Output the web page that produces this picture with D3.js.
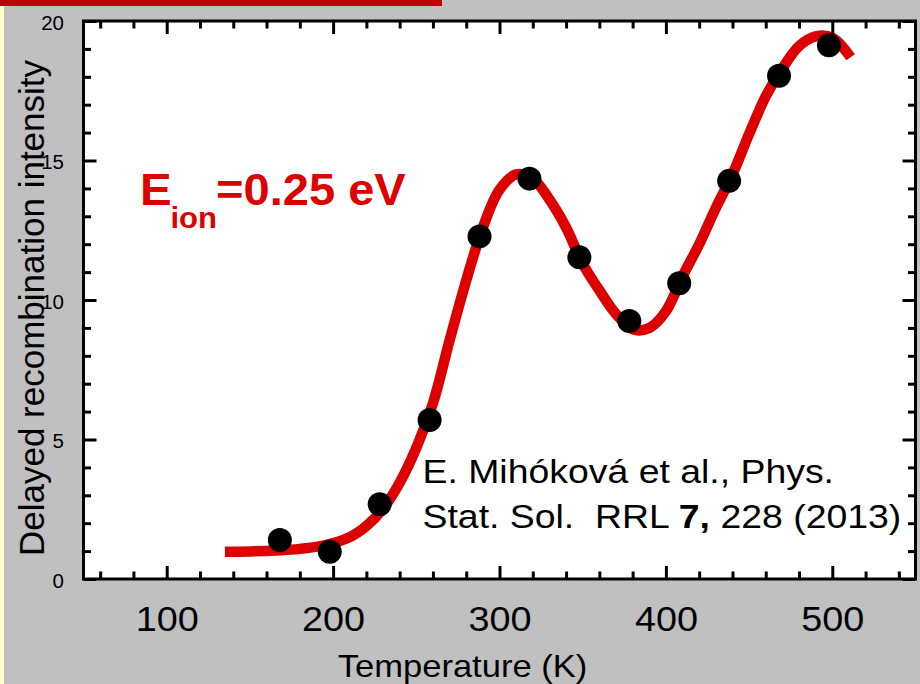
<!DOCTYPE html>
<html>
<head>
<meta charset="utf-8">
<script src="https://cdn.jsdelivr.net/npm/d3@7"></script>
<style>
  body { margin: 0; background: #c0c0c0; }
  text { font-family: "Liberation Sans", Arial, sans-serif; }
</style>
</head>
<body>
<div id="canvas"></div>
<script>
// measured points
const tempPoints = [168, 198, 228, 258, 288, 318, 348, 378, 408, 438, 468, 498]
const intensityPoints = [1.40, 0.98, 2.68, 5.70, 12.28, 14.35, 11.53, 9.25, 10.60, 14.27, 18.04, 19.13]

// fitted curve
const fitTemps = [135, 150, 165, 180, 195, 210, 220, 230, 240, 250, 260, 270, 280, 290, 300, 310, 320, 330, 340, 350, 360, 370, 380, 390, 400, 410, 420, 430, 440, 450, 460, 470, 480, 490, 500, 511]
const fitValues = [0.98, 0.99, 1.02, 1.08, 1.21, 1.50, 1.90, 2.52, 3.45, 4.70, 6.30, 8.55, 10.70, 12.60, 13.95, 14.50, 14.35, 13.60, 12.60, 11.30, 10.35, 9.50, 8.95, 9.00, 9.60, 10.85, 12.00, 13.30, 14.50, 15.95, 17.30, 18.30, 19.10, 19.45, 19.40, 18.70]

const xMajor = [100, 200, 300, 400, 500]
const xMinor = [60, 80, 120, 140, 160, 180, 220, 240, 260, 280, 320, 340, 360, 380, 420, 440, 460, 480, 520, 540]
const yMajor = [0, 5, 10, 15, 20]
const yMinor = [1, 2, 3, 4, 6, 7, 8, 9, 11, 12, 13, 14, 16, 17, 18, 19]

const width = 920
const height = 684
const red = '#dd0000'

const svg = d3.select('#canvas')
    .append('svg')
    .attr('width', width)
    .attr('height', height)

svg.append('rect').attr('width', width).attr('height', height).attr('fill', '#c0c0c0')
svg.append('rect').attr('x', 0).attr('y', 0).attr('width', 4).attr('height', height).attr('fill', '#ffffd2')
svg.append('rect').attr('x', 0).attr('y', 0).attr('width', 442).attr('height', 6).attr('fill', '#c00000')

let x = d3.scaleLinear().domain([50, 550]).range([83.5, 915.5])
let y = d3.scaleLinear().domain([0, 20]).range([579, 21])

// plot area
svg.append('rect')
    .attr('x', x(50)).attr('y', y(20))
    .attr('width', x(550) - x(50)).attr('height', y(0) - y(20))
    .attr('fill', 'white')

// fit line
let line = d3.line()
    .x(d => x(d[0]))
    .y(d => y(d[1]))
    .curve(d3.curveCatmullRom.alpha(0.5))

svg.append('path')
    .datum(fitTemps.map((t, i) => [t, fitValues[i]]))
    .attr('d', line)
    .attr('fill', 'none')
    .attr('stroke', red)
    .attr('stroke-width', 10.5)
    .attr('stroke-linecap', 'butt')

svg.append('g').selectAll('circle')
    .data(tempPoints.map((t, i) => [t, intensityPoints[i]]))
    .enter().append('circle')
    .attr('cx', d => x(d[0]))
    .attr('cy', d => y(d[1]))
    .attr('r', 12)
    .attr('fill', 'black')

// axes, ticks pointing inward
function styleAxis(g) {
    g.select('.domain').remove()
    g.selectAll('line').attr('stroke', 'black').attr('stroke-width', 3)
    g.attr('font-family', null)
}

let xBottom = svg.append('g').attr('transform', `translate(0,${y(0)})`)
    .call(d3.axisBottom(x).tickValues(xMajor).tickSize(-13).tickPadding(27))
    .call(styleAxis)
xBottom.selectAll('text').attr('font-size', 35).attr('fill', 'black')
    .attr('transform', 'scale(1.08,1)')

svg.append('g').attr('transform', `translate(0,${y(0)})`)
    .call(d3.axisBottom(x).tickValues(xMinor).tickSize(-7.5).tickFormat(''))
    .call(styleAxis)
svg.append('g').attr('transform', `translate(0,${y(20)})`)
    .call(d3.axisTop(x).tickValues(xMajor).tickSize(-13).tickFormat(''))
    .call(styleAxis)
svg.append('g').attr('transform', `translate(0,${y(20)})`)
    .call(d3.axisTop(x).tickValues(xMinor).tickSize(-7.5).tickFormat(''))
    .call(styleAxis)

let yLeft = svg.append('g').attr('transform', `translate(${x(50)},0)`)
    .call(d3.axisLeft(y).tickValues(yMajor).tickSize(-13).tickPadding(19.5))
    .call(styleAxis)
yLeft.selectAll('text').attr('font-size', 20.5).attr('fill', 'black').attr('dy', '0.41em')

svg.append('g').attr('transform', `translate(${x(50)},0)`)
    .call(d3.axisLeft(y).tickValues(yMinor).tickSize(-7.5).tickFormat(''))
    .call(styleAxis)
svg.append('g').attr('transform', `translate(${x(550)},0)`)
    .call(d3.axisRight(y).tickValues(yMajor).tickSize(-13).tickFormat(''))
    .call(styleAxis)
svg.append('g').attr('transform', `translate(${x(550)},0)`)
    .call(d3.axisRight(y).tickValues(yMinor).tickSize(-7.5).tickFormat(''))
    .call(styleAxis)

// frame
svg.append('rect')
    .attr('x', x(50)).attr('y', y(20))
    .attr('width', x(550) - x(50)).attr('height', y(0) - y(20))
    .attr('fill', 'none').attr('stroke', 'black').attr('stroke-width', 3)

// axis titles
svg.append('text')
    .text('Temperature (K)')
    .attr('text-anchor', 'middle')
    .attr('font-size', 32)
    .attr('transform', `translate(462.5,677) scale(1.08,1)`)

svg.append('text')
    .text('Delayed recombination intensity')
    .attr('text-anchor', 'middle')
    .attr('font-size', 35)
    .attr('transform', `translate(43.5,308) rotate(-90)`)

// E_ion label
function putText(str, px, py, size, opts) {
    return svg.append('text')
        .text(str)
        .attr('font-size', size)
        .attr('font-weight', opts.bold ? 'bold' : null)
        .attr('fill', opts.fill || 'black')
        .attr('transform', `translate(${px},${py}) scale(${opts.sx || 1},1)`)
}
putText('E', 140, 205, 44, {bold: true, fill: red, sx: 1.08})
putText('ion', 170.5, 228, 29, {bold: true, fill: red, sx: 1.07})
putText('=0.25 eV', 216, 205, 44, {bold: true, fill: red, sx: 1.07})

// citation
putText('E. Mihóková et al., Phys.', 422.5, 483, 34, {sx: 1.1})
let cite = putText('', 422.5, 528, 34, {sx: 1.1}).attr('xml:space', 'preserve').style('white-space', 'pre')
cite.append('tspan').text('Stat. Sol.  RRL ')
cite.append('tspan').text('7,').attr('font-weight', 'bold')
cite.append('tspan').text(' 228 (2013)')
</script>
</body>
</html>
